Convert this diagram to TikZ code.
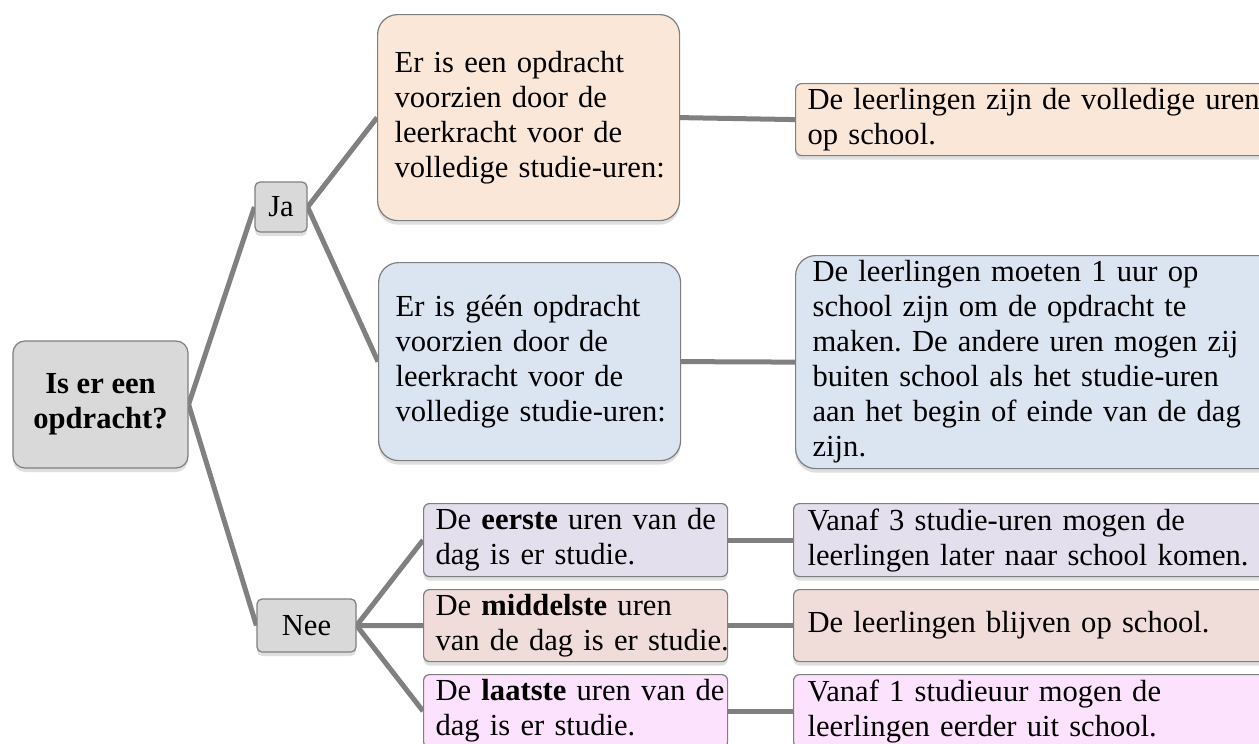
\documentclass[tikz,border=0pt]{standalone}
\usepackage{fontspec}
\setmainfont[WordSpace=0.7, BoldFeatures={WordSpace=1.0}]{Liberation Serif}
\usetikzlibrary{shadows,backgrounds}
\definecolor{edgegray}{HTML}{7F7F7F}
\definecolor{conngray}{HTML}{808080}
\definecolor{greyfill}{HTML}{D9D9D9}
\definecolor{orangefill}{HTML}{FBE7D7}
\definecolor{bluefill}{HTML}{DBE4F1}
\definecolor{lavfill}{HTML}{E4DFEC}
\definecolor{rosefill}{HTML}{F0DCD9}
\definecolor{pinkfill}{HTML}{FDE2FD}
\newcommand{\tline}[1]{\mbox{#1}}
\frenchspacing
\tikzset{
  box/.style={draw=edgegray, line width=1.2pt, align=left, inner ysep=2pt,
    font=\fontsize{30.6}{35}\selectfont,
    drop shadow={shadow xshift=0pt, shadow yshift=-4pt, opacity=0.25}},
  conn/.style={draw=conngray, line width=5pt},
}
\begin{document}
\begin{tikzpicture}[x=1pt,y=-1pt]
\clip (0,0) rectangle (1259,744);
% root and yes/no
\node[box, fill=greyfill, rounded corners=12pt, align=center, minimum width=175pt, minimum height=127pt, inner sep=0pt]
  (root) at (100.5,404.5) {\textbf{Is er een}\\\textbf{opdracht?}};
\node[box, fill=greyfill, rounded corners=5pt, minimum width=52pt, minimum height=50pt, inner sep=0pt, align=center]
  (ja) at (281,207) {Ja};
\node[box, fill=greyfill, rounded corners=5pt, minimum width=99pt, minimum height=53pt, inner sep=0pt, align=center]
  (nee) at (306.5,625.5) {Nee};
% Ja branch
\node[box, fill=orangefill, rounded corners=20pt, anchor=north west, inner xsep=17pt, text width=268pt, minimum height=206pt]
  (opdr) at (377,14) {\tline{Er is een opdracht}\\\tline{voorzien door de}\\\tline{leerkracht voor de}\\\tline{volledige studie-uren:}};
\node[box, fill=bluefill, rounded corners=20pt, anchor=north west, inner xsep=17pt, text width=268pt, minimum height=198pt]
  (geen) at (378,262) {\tline{Er is géén opdracht}\\\tline{voorzien door de}\\\tline{leerkracht voor de}\\\tline{volledige studie-uren:}};
\node[box, fill=orangefill, rounded corners=6pt, anchor=north west, inner xsep=12pt, text width=500pt, minimum height=72pt]
  (opdrR) at (795,83) {\tline{De leerlingen zijn de volledige uren}\\\tline{op school.}};
\node[box, fill=bluefill, rounded corners=20pt, anchor=north west, inner xsep=17pt, text width=500pt, minimum height=213pt]
  (geenR) at (795,255) {\tline{De leerlingen moeten 1 uur op}\\\tline{school zijn om de opdracht te}\\\tline{maken. De andere uren mogen zij}\\\tline{buiten school als het studie-uren}\\\tline{aan het begin of einde van de dag}\\\tline{zijn.}};
% Nee branch
\node[box, fill=lavfill, rounded corners=6pt, anchor=north west, inner xsep=12pt, text width=280pt, minimum height=73pt]
  (eerste) at (423,503) {\tline{De \textbf{eerste} uren van de}\\\tline{dag is er studie.}};
\node[box, fill=rosefill, rounded corners=6pt, anchor=north west, inner xsep=12pt, text width=280pt, minimum height=72pt]
  (midden) at (423,589) {\tline{De \textbf{middelste} uren}\\\tline{van de dag is er studie.}};
\node[box, fill=pinkfill, rounded corners=6pt, anchor=north west, inner xsep=12pt, text width=280pt, minimum height=73pt]
  (laatste) at (423,674) {\tline{De \textbf{laatste} uren van de}\\\tline{dag is er studie.}};
\node[box, fill=lavfill, rounded corners=6pt, anchor=north west, inner xsep=14pt, text width=500pt, minimum height=73pt]
  (eersteR) at (793,503) {\tline{Vanaf 3 studie-uren mogen de}\\\tline{leerlingen later naar school komen.}};
\node[box, fill=rosefill, rounded corners=6pt, anchor=north west, inner xsep=14pt, text width=500pt, minimum height=72pt]
  (middenR) at (793,589) {\tline{De leerlingen blijven op school.}};
\node[box, fill=pinkfill, rounded corners=6pt, anchor=north west, inner xsep=14pt, text width=500pt, minimum height=73pt]
  (laatsteR) at (793,674) {\tline{Vanaf 1 studieuur mogen de}\\\tline{leerlingen eerder uit school.}};
% connectors
\begin{scope}[on background layer]
\fill[white] (0,0) rectangle (1259,744);
\draw[conn] (root.east) -- (ja.west);
\draw[conn] (root.east) -- (nee.west);
\draw[conn] (ja.east) -- (opdr.west);
\draw[conn] (ja.east) -- (geen.west);
\draw[conn] (opdr.east) -- (opdrR.west);
\draw[conn] (geen.east) -- (geenR.west);
\draw[conn] (nee.east) -- (eerste.west);
\draw[conn] (nee.east) -- (midden.west);
\draw[conn] (nee.east) -- (laatste.west);
\draw[conn] (eerste.east) -- (eersteR.west);
\draw[conn] (midden.east) -- (middenR.west);
\draw[conn] (laatste.east) -- (laatsteR.west);
\end{scope}
\end{tikzpicture}
\end{document}
